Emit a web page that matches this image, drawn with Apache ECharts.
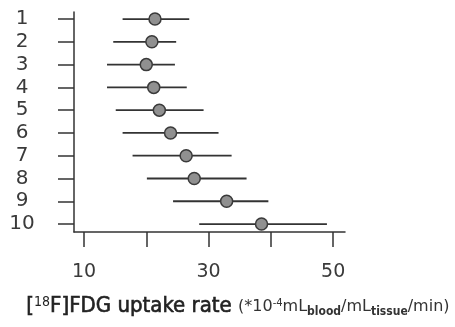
<!DOCTYPE html>
<html><head><meta charset="utf-8">
<script src="https://cdn.jsdelivr.net/npm/echarts@6/dist/echarts.min.js"></script>
<style>html,body{margin:0;padding:0;background:#fff}#c{width:455px;height:327px}</style>
</head><body><div id="c"></div>
<script>
const rows = [1,2,3,4,5,6,7,8,9,10];
const estimate = [21.4,20.9,20.0,21.2,22.1,23.9,26.4,27.7,32.9,38.5];
const lower = [16.2,14.7,13.7,13.7,15.1,16.2,17.8,20.1,24.3,28.5];
const upper = [26.9,24.8,24.6,26.5,29.2,31.6,33.7,36.1,39.6,49.0];
const xTicks = [10,20,30,40,50];
const xLabels = [10,30,50];

const chart = echarts.init(document.getElementById('c'));
const font = 'DejaVu Sans';
const cfont = 'DejaVu Sans Condensed';
const L = 26;
chart.setOption({
  animation:false,
  grid:{left:74,right:110,top:12,bottom:95},
  xAxis:{type:'value',min:8.4,max:51.9,
    axisLine:{lineStyle:{color:'#333',width:1.5}},
    axisTick:{show:true,length:15,lineStyle:{color:'#333',width:1.5},customValues:xTicks},
    axisLabel:{customValues:xLabels,margin:31,fontFamily:font,fontSize:19,color:'#3a3a3a'},
    splitLine:{show:false}},
  yAxis:{type:'value',inverse:true,min:0.69,max:10.35,
    axisLine:{show:true,lineStyle:{color:'#333',width:1.5}},
    axisTick:{show:true,length:16,lineStyle:{color:'#333',width:1.5},customValues:rows},
    axisLabel:{customValues:rows,margin:52,fontFamily:font,fontSize:20,color:'#3a3a3a',align:'center'},
    splitLine:{show:false}},
  graphic:[{type:'text',left:26,top:295,style:{
    text:'{b|[}{sup|18}{b|F]FDG uptake rate }{s|(*10}{ssup|-4}{s|mL}{sub|blood}{s|/mL}{sub|tissue}{s|/min)}',
    rich:{
      b:{fontFamily:cfont,fontSize:22,fill:'#222',stroke:'#222',lineWidth:0.6,lineHeight:L,verticalAlign:'bottom',padding:[0,0,2,0]},
      sup:{fontFamily:cfont,fontSize:14,fill:'#222',lineHeight:L,verticalAlign:'bottom',padding:[0,0,10,0]},
      s:{fontFamily:font,fontSize:16,fill:'#333',lineHeight:L,verticalAlign:'bottom',padding:[0,0,4,0]},
      ssup:{fontFamily:font,fontSize:10,fill:'#333',lineHeight:L,verticalAlign:'bottom',padding:[0,0,11,0]},
      sub:{fontFamily:cfont,fontSize:12,fontWeight:'bold',fill:'#333',lineHeight:L,verticalAlign:'bottom',padding:[0,0,1,0]}
    }}}],
  series:[
    {type:'custom',data:rows.map((r,i)=>[lower[i],upper[i],r]),
      renderItem:function(params,api){
        const a=api.coord([api.value(0),api.value(2)]);
        const b=api.coord([api.value(1),api.value(2)]);
        return {type:'line',shape:{x1:a[0],y1:a[1],x2:b[0],y2:b[1]},style:{stroke:'#333',lineWidth:1.8}};
      },z:2},
    {type:'scatter',data:rows.map((r,i)=>[estimate[i],r]),symbol:'circle',symbolSize:12,
      itemStyle:{color:'#909090',borderColor:'#3a3a3a',borderWidth:1.5,opacity:1},z:3}
  ]
});
</script></body></html>
